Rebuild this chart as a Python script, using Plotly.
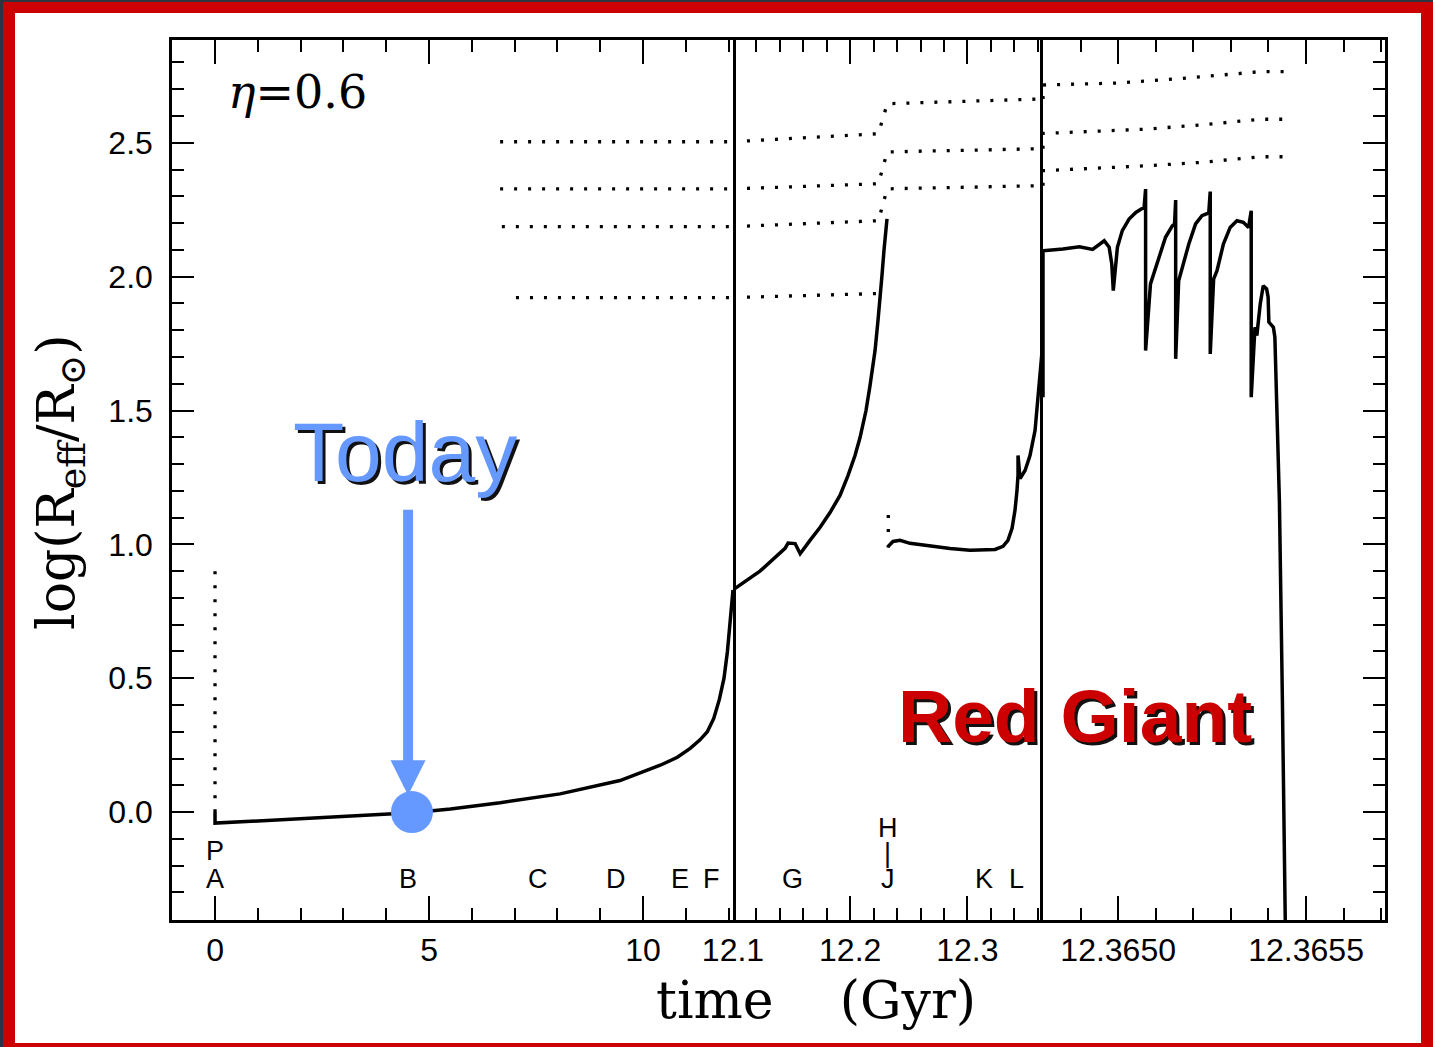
import plotly.graph_objects as go

# ---------------- data ----------------
# panel 1: main sequence (time in Gyr)
ms_t = [0.0, 0.0, 1.0, 2.0, 3.0, 4.0, 4.6, 5.5, 6.66, 8.06, 9.46, 10.4, 10.8, 11.1, 11.33, 11.5, 11.65, 11.78, 11.89, 11.97, 12.04, 12.1]
ms_logR = [0.0, -0.041, -0.033, -0.025, -0.017, -0.009, -0.002, 0.012, 0.035, 0.068, 0.118, 0.175, 0.205, 0.238, 0.27, 0.30, 0.35, 0.42, 0.50, 0.60, 0.72, 0.83]
pms_t = [0.0, 0.0]
pms_logR = [0.9, 0.0]

# panel 2: red giant branch + horizontal branch (Gyr)
rgb_t = [12.1, 12.123, 12.1444, 12.147, 12.153, 12.1573, 12.1657, 12.1742, 12.1828, 12.1913, 12.1981, 12.2041,
         12.2084, 12.2135, 12.2169, 12.2212, 12.2237, 12.2254, 12.2271, 12.2288, 12.2314]
rgb_logR = [0.83, 0.90, 0.985, 1.005, 1.003, 0.965, 1.015, 1.063, 1.119, 1.183, 1.257, 1.332,
            1.399, 1.50, 1.593, 1.724, 1.836, 1.91, 2.004, 2.097, 2.216]
hb_dot_t = [12.2325, 12.2325]
hb_dot_logR = [1.11, 1.03]
hb_t = [12.2323, 12.2325, 12.2365, 12.2425, 12.2510, 12.2681, 12.2852, 12.3022, 12.3150, 12.3236, 12.3304,
        12.3346, 12.3381, 12.3406, 12.3423, 12.3432, 12.3432, 12.3449, 12.3492, 12.3534, 12.3577, 12.3602,
        12.3619, 12.3645]
hb_logR = [0.988, 0.993, 1.011, 1.015, 1.004, 0.993, 0.985, 0.978, 0.978, 0.981, 0.993,
           1.015, 1.060, 1.127, 1.201, 1.260, 1.332, 1.246, 1.276, 1.332, 1.425, 1.537,
           1.631, 1.761]

# panel 3: AGB / thermal pulses (Gyr)
agb_t = [12.3648, 12.3648, 12.364853, 12.364897, 12.364932, 12.364963, 12.364976, 12.364983, 12.364987,
         12.364992, 12.364998, 12.365011, 12.365029, 12.365047, 12.365069, 12.365073, 12.365073,
         12.365086, 12.3651, 12.365113, 12.365126, 12.365144, 12.36515, 12.365153, 12.365153,
         12.365161, 12.36517, 12.365188, 12.365206, 12.365223, 12.365241, 12.365245, 12.365245,
         12.365254, 12.365263, 12.36528, 12.365298, 12.365316, 12.365333, 12.365347, 12.365354, 12.365354,
         12.365364, 12.365369, 12.365378, 12.365386, 12.365395, 12.365399, 12.365401, 12.365413, 12.365417,
         12.365421, 12.365429, 12.365437, 12.365445]
agb_logR = [1.55, 2.097, 2.103, 2.112, 2.102, 2.134, 2.110, 2.047, 1.948,
            2.035, 2.110, 2.172, 2.215, 2.240, 2.259, 2.327, 1.724,
            1.973, 2.035, 2.097, 2.147, 2.190, 2.197, 2.286, 1.693,
            1.985, 2.035, 2.122, 2.197, 2.228, 2.238, 2.318, 1.711,
            1.991, 2.022, 2.122, 2.184, 2.209, 2.203, 2.184, 2.246, 1.55,
            1.811, 1.780, 1.898, 1.966, 1.954, 1.923, 1.830, 1.811, 1.774,
            1.537, 1.164, 0.418, -0.45]

# dotted tracks
dot1_t = [6.66, 12.1, 12.1, 12.224, 12.2316, 12.3645, 12.3648, 12.3648, 12.364995, 12.365148, 12.365299, 12.365378, 12.365458]
dot1_logR = [2.504, 2.504, 2.504, 2.534, 2.646, 2.664, 2.664, 2.716, 2.723, 2.738, 2.756, 2.766, 2.766]
dot2_t = [6.66, 12.1, 12.1, 12.224, 12.2316, 12.3645, 12.3648, 12.3648, 12.365074, 12.365222, 12.365378, 12.365458]
dot2_logR = [2.328, 2.328, 2.328, 2.347, 2.466, 2.478, 2.478, 2.535, 2.551, 2.567, 2.588, 2.588]
dot3_t = [6.70, 12.1, 12.1, 12.224, 12.2316, 12.3645, 12.3648, 12.3648, 12.365074, 12.365222, 12.365378, 12.365458]
dot3_logR = [2.187, 2.187, 2.187, 2.209, 2.328, 2.340, 2.340, 2.396, 2.414, 2.427, 2.448, 2.448]
dot4_t = [7.03, 12.1, 12.1, 12.224]
dot4_logR = [1.922, 1.922, 1.922, 1.937]

today_t = [4.6]
today_logR = [0.0]

# phase letters: (label, time, logR, panel)
phase_labels = ["P", "A", "B", "C", "D", "E", "F", "G", "H", "|", "J", "K", "L"]
phase_t = [0.0, 0.0, 4.5, 7.55, 9.37, 10.86, 11.59, 12.151, 12.232, 12.232, 12.232, 12.314, 12.342]
phase_logR = [-0.146, -0.25, -0.25, -0.25, -0.25, -0.25, -0.25, -0.25, -0.06, -0.153, -0.25, -0.25, -0.25]
phase_panel = [1, 1, 1, 1, 1, 1, 1, 2, 2, 2, 2, 2, 2]

y_ticks = [0.0, 0.5, 1.0, 1.5, 2.0, 2.5]
y_ticktext = ["0.0", "0.5", "1.0", "1.5", "2.0", "2.5"]
x1_ticks = [0, 5, 10]
x1_ticktext = ["0", "5", "10"]
x2_ticks = [12.1, 12.2, 12.3]
x2_ticktext = ["12.1", "12.2", "12.3"]
x3_ticks = [12.365, 12.3655]
x3_ticktext = ["12.3650", "12.3655"]

# ---------------- figure ----------------
W, H = 1433, 1047
L, R, T, B = 172, 1385, 40, 920
pw, ph = R - L, B - T


def px(x):
    return (x - L) / pw


def py(y):
    return (B - y) / ph


d1 = px(733)
d2 = px(1043)

fig = go.Figure()
solid = dict(color="black", width=3.5)
dotted = dict(color="black", width=3.3, dash="3px,11px")

fig.add_trace(go.Scatter(x=pms_t, y=pms_logR, mode="lines", line=dotted, xaxis="x", yaxis="y"))
fig.add_trace(go.Scatter(x=ms_t, y=ms_logR, mode="lines", line=solid, xaxis="x", yaxis="y"))
for tt, yy in [(dot1_t, dot1_logR), (dot2_t, dot2_logR), (dot3_t, dot3_logR), (dot4_t, dot4_logR)]:
    p1 = [(a, b) for a, b in zip(tt, yy) if a <= 12.1]
    p2 = [(a, b) for a, b in zip(tt, yy) if 12.1 <= a <= 12.3645]
    p3 = [(a, b) for a, b in zip(tt, yy) if a >= 12.3648]
    for pts, xa, ya in [(p1, "x", "y"), (p2, "x2", "y2"), (p3, "x3", "y3")]:
        if len(pts) > 1:
            fig.add_trace(go.Scatter(x=[p[0] for p in pts], y=[p[1] for p in pts], mode="lines",
                                     line=dotted, xaxis=xa, yaxis=ya))
fig.add_trace(go.Scatter(x=rgb_t, y=rgb_logR, mode="lines", line=solid, xaxis="x2", yaxis="y2"))
fig.add_trace(go.Scatter(x=hb_dot_t, y=hb_dot_logR, mode="lines", line=dotted, xaxis="x2", yaxis="y2"))
fig.add_trace(go.Scatter(x=hb_t, y=hb_logR, mode="lines", line=solid, xaxis="x2", yaxis="y2"))
fig.add_trace(go.Scatter(x=agb_t, y=agb_logR, mode="lines", line=solid, xaxis="x3", yaxis="y3"))
fig.add_trace(go.Scatter(x=today_t, y=today_logR, mode="markers", xaxis="x", yaxis="y",
                         marker=dict(size=42, color="#6699ff", line=dict(width=0))))

YR = [-0.403, 2.884]
tickfont = dict(family="Liberation Sans, Arial, sans-serif", size=32, color="black")


def xaxis(dom, rng, tv, tt, minor_dt, minor_t0, anchor):
    return dict(domain=dom, range=rng, anchor=anchor, tickmode="array", tickvals=tv, ticktext=tt,
                ticks="inside", ticklen=24, tickwidth=2, tickcolor="black",
                showline=True, linewidth=2.5, linecolor="black", mirror="ticks",
                showgrid=False, zeroline=False, tickfont=tickfont, ticklabelstandoff=0,
                minor=dict(ticks="inside", ticklen=12, tickwidth=2, tickcolor="black",
                           dtick=minor_dt, tick0=minor_t0, showgrid=False))


def yaxis(anchor, side="left", ticks=True, labels=False, line=True):
    d = dict(range=YR, anchor=anchor, side=side, showline=line, linewidth=2.5, linecolor="black",
             mirror=True, showgrid=False, zeroline=False, tickmode="array", tickvals=y_ticks,
             ticktext=y_ticktext, showticklabels=labels, tickfont=tickfont, ticklabelstandoff=10)
    if ticks:
        d.update(ticks="inside", ticklen=22, tickwidth=2, tickcolor="black",
                 minor=dict(ticks="inside", ticklen=12, tickwidth=2, tickcolor="black",
                            dtick=0.1, tick0=0, showgrid=False))
    else:
        d.update(ticks="")
    return d


annotations = []
# phase letters
for lab, t, y, p in zip(phase_labels, phase_t, phase_logR, phase_panel):
    xa = "x" if p == 1 else "x2"
    ya = "y" if p == 1 else "y2"
    annotations.append(dict(x=t, y=y, xref=xa, yref=ya, text=lab, showarrow=False,
                            font=dict(family="Liberation Sans Narrow, Liberation Sans, sans-serif",
                                      size=27, color="black"),
                            xanchor="center", yanchor="middle"))
# eta
annotations.append(dict(x=px(226), y=py(92), xref="paper", yref="paper", showarrow=False,
                        text="<i>η</i>=0.6", xanchor="left", yanchor="middle",
                        font=dict(family="DejaVu Serif, serif", size=46, color="black")))
# axis titles
annotations.append(dict(x=px(816), y=py(1000), xref="paper", yref="paper", showarrow=False,
                        text="time&nbsp;&nbsp;&nbsp;&nbsp;(Gyr)", xanchor="center", yanchor="middle",
                        font=dict(family="DejaVu Serif, serif", size=52, color="black")))
annotations.append(dict(x=px(60), y=py(482), xref="paper", yref="paper", showarrow=False,
                        text="log(R<sub>eff</sub>/R<sub>⊙</sub>)", textangle=-90,
                        xanchor="center", yanchor="middle",
                        font=dict(family="DejaVu Serif, serif", size=52, color="black")))
# Today text with shadow
for dx, dy, col in [(3, -3, "#111111"), (0, 0, "#6699ff")]:
    annotations.append(dict(x=px(405), y=py(452), xref="paper", yref="paper", showarrow=False,
                            text="Today", xanchor="center", yanchor="middle", xshift=dx, yshift=dy,
                            font=dict(family="Liberation Sans, Arial, sans-serif", size=84, color=col)))
# Red Giant text with shadow
for dx, dy, col in [(3, -3, "#111111"), (0, 0, "#cc0000")]:
    annotations.append(dict(x=px(1075), y=py(716), xref="paper", yref="paper", showarrow=False,
                            text="<b>Red Giant</b>", xanchor="center", yanchor="middle", xshift=dx, yshift=dy,
                            font=dict(family="Liberation Sans, Arial, sans-serif", size=75, color=col)))
# arrow pointing to today
annotations.append(dict(x=4.51, y=0.063, xref="x", yref="y", text="", showarrow=True,
                        ax=0, ay=-287, axref="pixel", ayref="pixel",
                        arrowhead=2, arrowwidth=10, arrowsize=0.7, arrowcolor="#6699ff"))

shapes = [
    dict(type="rect", xref="paper", yref="paper", layer="below",
         x0=px(15), x1=px(1421), y0=py(1043), y1=py(13), fillcolor="white", line=dict(width=0)),
    dict(type="rect", xref="paper", yref="paper", layer="below",
         x0=px(0), x1=px(3), y0=py(H), y1=py(0), fillcolor="#2d3441", line=dict(width=0)),
    dict(type="rect", xref="paper", yref="paper", layer="below",
         x0=px(0), x1=px(W), y0=py(2), y1=py(0), fillcolor="#2d3441", line=dict(width=0)),
]

fig.update_layout(
    width=W, height=H, autosize=False,
    margin=dict(l=L, r=W - R, t=T, b=H - B, pad=0),
    paper_bgcolor="#cc0000", plot_bgcolor="white",
    showlegend=False,
    xaxis=xaxis([0, d1], [-1.005, 12.1], x1_ticks, x1_ticktext, 1, 0, "y"),
    xaxis2=xaxis([d1, d2], [12.1, 12.3645], x2_ticks, x2_ticktext, 0.02, 12.1, "y2"),
    xaxis3=xaxis([d2, 1], [12.3648, 12.36571], x3_ticks, x3_ticktext, 0.0001, 12.365, "y3"),
    yaxis=yaxis("x", labels=True),
    yaxis2=yaxis("x2", ticks=False, line=False),
    yaxis3=yaxis("x3", side="right"),
    annotations=annotations,
    shapes=shapes,
)

fig.write_html("out.html", config={"displayModeBar": False},
               post_script="document.body.style.margin='0';document.body.style.overflow='hidden';")
